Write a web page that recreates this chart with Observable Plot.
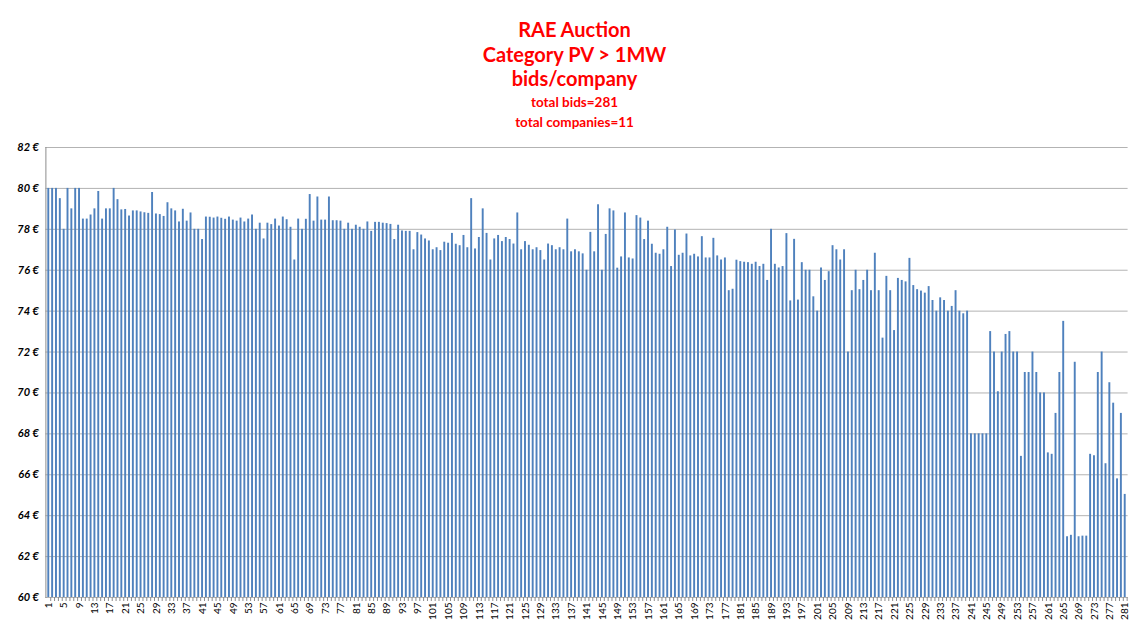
<!DOCTYPE html>
<html><head><meta charset="utf-8">
<script src="https://cdn.jsdelivr.net/npm/d3@7"></script>
<script src="https://cdn.jsdelivr.net/npm/@observablehq/plot@0.6"></script>
<style>
body{margin:0;background:#fff;font-family:Lato,"Open Sans",sans-serif;}
#head{position:relative;height:137px;width:1133px;}
.t{position:absolute;left:0;width:1149px;text-align:center;color:#ff0000;font-weight:bold;white-space:nowrap;}
.big{font-size:20px;line-height:20px;}
.small{font-size:13.5px;line-height:14px;}
</style></head>
<body>
<div id="head">
<div class="t big" style="top:19px">RAE Auction</div>
<div class="t big" style="top:44px">Category PV &gt; 1MW</div>
<div class="t big" style="top:68px">bids/company</div>
<div class="t small" style="top:95px">total bids=281</div>
<div class="t small" style="top:115px">total companies=11</div>
</div>
<div id="chart"></div>
<script>
// bid prices (€/MWh) per bid, in order 1..281
const bids1 = [80,80,80,79.5,78,80,79,80,80,78.5,78.5,78.7,79,79.85,78.5,79,79,80,79.45,78.95,78.97,78.65,78.9,78.9,78.85,
78.81,78.78,79.8,78.75,78.72,78.63,79.3,79.0,78.9,78.36,78.98,78.4,78.8,78.0,78.0,77.5,78.6,78.59,78.55,78.6,78.54,78.49,78.6,78.45,78.4,
78.55,78.36,78.5,78.7,78.0,78.3,77.53,78.3,78.23,78.5,78.16,78.6,78.47,78.1,76.5,78.5,78.0,78.49,79.7,78.4,79.58,78.45,78.45,79.58,78.42,
78.42,78.4,78.0,78.3,78.0,78.2,78.1,78.0,78.36,77.9,78.34,78.34,78.3,78.28,78.24,77.5,78.2,77.92,77.9,77.9,77.0,77.84,77.72,77.53,77.43];
const bids2 = [77.0,
77.1,76.96,77.37,77.32,77.8,77.27,77.2,77.7,77.1,79.5,77.04,77.6,79.0,77.8,76.5,77.53,77.7,77.4,77.6,77.5,77.28,78.8,77.0,77.4,77.22,
77.0,77.1,76.96,76.5,77.28,77.2,77.0,77.1,77.0,78.5,76.9,77.0,76.9,76.8,76.0,77.85,76.9,79.2,76.0,77.75,79.0,78.9,76.1,76.65,78.8,76.6,
76.55,78.67,78.55,77.5,78.4,77.27,76.83,76.78,77.0,78.1,76.18,77.97,76.73,76.83,77.77,76.7,76.78,76.65,77.64,76.6,76.6,77.56,76.7,76.5,76.6,
75.0,75.07,76.49,76.42,76.39,76.37,76.29,76.39,76.18,76.29,75.5,78.0,76.29,76.11,76.18,77.79,74.5,77.51,74.54,76.37,76.0,76.0,74.7];
const bids3 = [74.0,76.11,75.5,
75.93,77.2,77.0,76.5,77.0,72.0,75.0,76.0,75.05,75.5,76.0,75.0,76.83,75.0,72.68,75.7,75.0,73.05,75.6,75.5,75.43,76.58,75.25,75.05,74.98,
74.88,75.2,74.52,74.0,74.65,74.52,74.0,74.23,75.0,74.0,73.87,74.0,68,68,68,68,68,73.0,72.0,70.06,72.0,72.86,73.0,72.0,72.0,
66.9,71.0,71.0,72.0,71.0,70.0,70.0,67.07,67.0,69.0,71.0,73.5,62.97,63.04,71.5,62.97,63,63,67.0,66.93,71.0,72.0,66.54,70.5,69.5,65.8,69.0,65.04];
const yTicks = [60,62,64,66,68,70,72,74,76,78,80,82];

const bids = bids1.concat(bids2, bids3);
const data = bids.map((v, i) => ({bid: i + 1, price: v}));
const cats = data.map(d => d.bid);
const xLabels = cats.filter(k => (k - 1) % 4 === 0);

const W = 1133, H = 491, mL = 45.4, mR = 5.4;
const step = (W - mL - mR) / cats.length;

const chart = Plot.plot({
  width: W, height: H,
  marginLeft: mL, marginRight: mR, marginTop: 10, marginBottom: 31,
  style: {fontFamily: "Lato, 'Open Sans', sans-serif", background: "#fff", overflow: "visible"},
  x: {type: "band", domain: cats, padding: 0.5},
  y: {domain: [60, 82]},
  marks: [
    Plot.ruleY(yTicks, {stroke: "#b3b3b3", strokeWidth: 1}),
    Plot.barY(data, {x: "bid", y1: 60, y2: "price", fill: "#4f81bd"}),
    Plot.frame({anchor: "left", stroke: "#8c8c8c"}),
    Plot.axisY({ticks: yTicks, tickSize: 0, tickPadding: 7, tickFormat: d => d + " €", fontSize: 11, fontWeight: "bold", fontStyle: "italic", fill: "#000", label: null}),
    Plot.axisX({ticks: cats, tickSize: 4, text: null, dx: step / 2, stroke: "#8c8c8c", label: null}),
    Plot.axisX({ticks: xLabels, tickSize: 0, tickPadding: 5, tickRotate: -90, fontSize: 10, fill: "#000", label: null})
  ]
});
document.getElementById("chart").appendChild(chart);
</script>
</body></html>
